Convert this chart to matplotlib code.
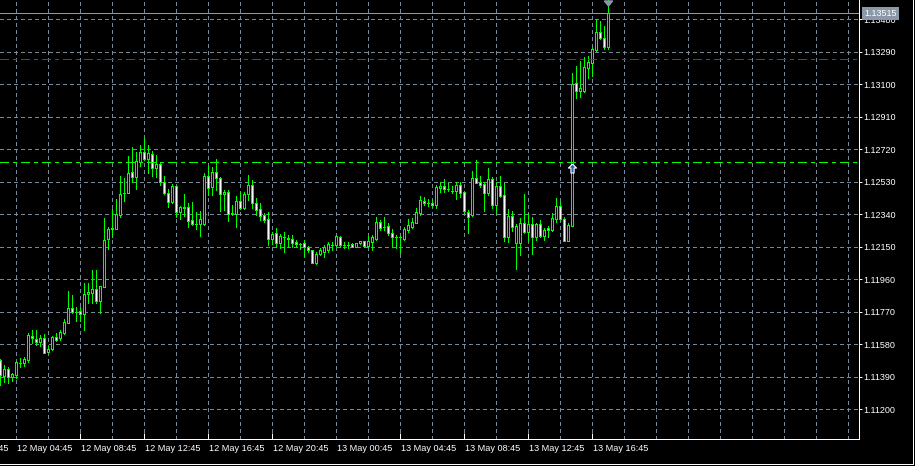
import matplotlib
matplotlib.use('Agg')
from matplotlib import pyplot
from matplotlib import transforms
from matplotlib.path import Path
from matplotlib.lines import Line2D
from matplotlib.ticker import FormatStrFormatter

pyplot.rcParams['font.family'] = ['Liberation Sans', 'DejaVu Sans']
pyplot.rcParams['lines.antialiased'] = False

# EURUSD M15, one candle per 15 minutes, first candle 12 May 03:45
opens = [
    1.11488, 1.11395, 1.11434, 1.11391, 1.11401, 1.11469, 1.11473, 1.11488, 1.11631, 1.11613,
    1.11596, 1.11615, 1.11533, 1.11551, 1.11621, 1.11615, 1.11648, 1.11707, 1.11790, 1.11771,
    1.11773, 1.11755, 1.11872, 1.11878, 1.11901, 1.11835, 1.11917, 1.12194, 1.12254, 1.12256,
    1.12338, 1.12463, 1.12463, 1.12586, 1.12560, 1.12648, 1.12702, 1.12662, 1.12691, 1.12609,
    1.12632, 1.12527, 1.12463, 1.12414, 1.12506, 1.12356, 1.12385, 1.12381, 1.12307, 1.12284,
    1.12282, 1.12283, 1.12566, 1.12498, 1.12585, 1.12550, 1.12457, 1.12469, 1.12346, 1.12342,
    1.12418, 1.12375, 1.12457, 1.12511, 1.12408, 1.12369, 1.12336, 1.12311, 1.12194, 1.12229,
    1.12174, 1.12209, 1.12203, 1.12194, 1.12178, 1.12166, 1.12170, 1.12147, 1.12131, 1.12057,
    1.12106, 1.12122, 1.12131, 1.12161, 1.12161, 1.12205, 1.12161, 1.12161, 1.12166, 1.12151,
    1.12170, 1.12184, 1.12157, 1.12180, 1.12194, 1.12297, 1.12268, 1.12272, 1.12233, 1.12205,
    1.12205, 1.12194, 1.12248, 1.12268, 1.12291, 1.12346, 1.12418, 1.12404, 1.12408, 1.12395,
    1.12492, 1.12506, 1.12490, 1.12479, 1.12479, 1.12512, 1.12469, 1.12354, 1.12336, 1.12550,
    1.12531, 1.12517, 1.12467, 1.12545, 1.12395, 1.12506, 1.12453, 1.12209, 1.12330, 1.12174,
    1.12174, 1.12287, 1.12237, 1.12284, 1.12206, 1.12284, 1.12213, 1.12258, 1.12248, 1.12313,
    1.12389, 1.12311, 1.12186, 1.12274, 1.13106, 1.13063, 1.13063, 1.13197, 1.13223, 1.13301,
    1.13408, 1.13369, 1.13316,
]
highs = [
    1.11492, 1.11459, 1.11446, 1.11414, 1.11483, 1.11498, 1.11508, 1.11644, 1.11664, 1.11664,
    1.11635, 1.11640, 1.11570, 1.11629, 1.11644, 1.11664, 1.11726, 1.11890, 1.11866, 1.11796,
    1.11800, 1.11941, 1.11941, 1.12015, 1.12015, 1.11921, 1.12317, 1.12268, 1.12369, 1.12428,
    1.12564, 1.12550, 1.12681, 1.12732, 1.12706, 1.12745, 1.12784, 1.12745, 1.12710, 1.12687,
    1.12648, 1.12564, 1.12486, 1.12517, 1.12512, 1.12389, 1.12457, 1.12404, 1.12414, 1.12356,
    1.12360, 1.12580, 1.12628, 1.12619, 1.12661, 1.12560, 1.12482, 1.12482, 1.12394, 1.12447,
    1.12472, 1.12472, 1.12570, 1.12541, 1.12433, 1.12404, 1.12346, 1.12356, 1.12239, 1.12258,
    1.12225, 1.12239, 1.12219, 1.12219, 1.12190, 1.12174, 1.12190, 1.12155, 1.12131, 1.12122,
    1.12141, 1.12161, 1.12180, 1.12176, 1.12219, 1.12213, 1.12178, 1.12178, 1.12170, 1.12174,
    1.12186, 1.12186, 1.12213, 1.12219, 1.12326, 1.12307, 1.12326, 1.12287, 1.12252, 1.12219,
    1.12219, 1.12268, 1.12311, 1.12317, 1.12375, 1.12447, 1.12443, 1.12428, 1.12424, 1.12512,
    1.12531, 1.12545, 1.12521, 1.12506, 1.12531, 1.12531, 1.12478, 1.12365, 1.12595, 1.12658,
    1.12564, 1.12531, 1.12609, 1.12556, 1.12531, 1.12564, 1.12525, 1.12369, 1.12361, 1.12283,
    1.12317, 1.12459, 1.12346, 1.12326, 1.12291, 1.12307, 1.12258, 1.12272, 1.12346, 1.12434,
    1.12414, 1.12323, 1.12291, 1.13164, 1.13207, 1.13238, 1.13258, 1.13266, 1.13320, 1.13480,
    1.13472, 1.13441, 1.13600,
]
lows = [
    1.11342, 1.11362, 1.11356, 1.11368, 1.11381, 1.11446, 1.11453, 1.11479, 1.11586, 1.11576,
    1.11570, 1.11527, 1.11527, 1.11547, 1.11602, 1.11606, 1.11640, 1.11703, 1.11761, 1.11718,
    1.11718, 1.11664, 1.11820, 1.11820, 1.11824, 1.11761, 1.11917, 1.12135, 1.12209, 1.12256,
    1.12323, 1.12420, 1.12463, 1.12531, 1.12490, 1.12623, 1.12658, 1.12584, 1.12564, 1.12560,
    1.12510, 1.12459, 1.12381, 1.12408, 1.12322, 1.12311, 1.12330, 1.12264, 1.12278, 1.12252,
    1.12213, 1.12278, 1.12453, 1.12453, 1.12482, 1.12359, 1.12365, 1.12303, 1.12336, 1.12268,
    1.12369, 1.12369, 1.12424, 1.12375, 1.12336, 1.12307, 1.12297, 1.12161, 1.12166, 1.12147,
    1.12141, 1.12122, 1.12151, 1.12151, 1.12147, 1.12135, 1.12096, 1.12122, 1.12053, 1.12050,
    1.12100, 1.12092, 1.12122, 1.12131, 1.12155, 1.12151, 1.12141, 1.12141, 1.12147, 1.12147,
    1.12166, 1.12151, 1.12151, 1.12131, 1.12190, 1.12248, 1.12248, 1.12219, 1.12147, 1.12141,
    1.12112, 1.12190, 1.12239, 1.12258, 1.12287, 1.12336, 1.12395, 1.12389, 1.12385, 1.12375,
    1.12473, 1.12473, 1.12479, 1.12463, 1.12428, 1.12443, 1.12346, 1.12233, 1.12330, 1.12521,
    1.12502, 1.12361, 1.12453, 1.12375, 1.12350, 1.12439, 1.12186, 1.12180, 1.12245, 1.12018,
    1.12102, 1.12229, 1.12190, 1.12108, 1.12190, 1.12206, 1.12190, 1.12206, 1.12245, 1.12297,
    1.12303, 1.12186, 1.12186, 1.12274, 1.13018, 1.13028, 1.13057, 1.13135, 1.13149, 1.13297,
    1.13363, 1.13305, 1.13305,
]
closes = [
    1.11401, 1.11436, 1.11391, 1.11405, 1.11475, 1.11469, 1.11492, 1.11635, 1.11615, 1.11596,
    1.11615, 1.11531, 1.11553, 1.11621, 1.11606, 1.11654, 1.11711, 1.11790, 1.11771, 1.11771,
    1.11755, 1.11872, 1.11888, 1.11901, 1.11835, 1.11921, 1.12190, 1.12254, 1.12260, 1.12342,
    1.12459, 1.12463, 1.12580, 1.12560, 1.12650, 1.12702, 1.12662, 1.12697, 1.12609, 1.12632,
    1.12527, 1.12463, 1.12414, 1.12506, 1.12356, 1.12385, 1.12379, 1.12303, 1.12282, 1.12284,
    1.12311, 1.12564, 1.12492, 1.12585, 1.12550, 1.12457, 1.12469, 1.12342, 1.12346, 1.12418,
    1.12375, 1.12459, 1.12511, 1.12408, 1.12365, 1.12332, 1.12307, 1.12194, 1.12225, 1.12174,
    1.12213, 1.12209, 1.12194, 1.12174, 1.12164, 1.12166, 1.12151, 1.12131, 1.12057, 1.12108,
    1.12131, 1.12147, 1.12166, 1.12161, 1.12213, 1.12161, 1.12161, 1.12161, 1.12151, 1.12170,
    1.12184, 1.12157, 1.12186, 1.12205, 1.12293, 1.12258, 1.12268, 1.12233, 1.12205, 1.12205,
    1.12205, 1.12252, 1.12278, 1.12297, 1.12352, 1.12424, 1.12404, 1.12404, 1.12393, 1.12498,
    1.12506, 1.12490, 1.12490, 1.12479, 1.12512, 1.12467, 1.12361, 1.12326, 1.12550, 1.12525,
    1.12512, 1.12467, 1.12545, 1.12395, 1.12506, 1.12447, 1.12209, 1.12330, 1.12264, 1.12272,
    1.12287, 1.12237, 1.12284, 1.12206, 1.12284, 1.12213, 1.12248, 1.12248, 1.12317, 1.12389,
    1.12311, 1.12186, 1.12278, 1.13100, 1.13063, 1.13077, 1.13199, 1.13231, 1.13305, 1.13408,
    1.13369, 1.13316, 1.13515,
]

price_ticks = [1.11200, 1.11390, 1.11580, 1.11770, 1.11960, 1.12150, 1.12340,
               1.12530, 1.12720, 1.12910, 1.13100, 1.13290, 1.13480]
time_labels = ['12 May 00:45', '12 May 04:45', '12 May 08:45', '12 May 12:45',
               '12 May 16:45', '12 May 20:45', '13 May 00:45', '13 May 04:45',
               '13 May 08:45', '13 May 12:45', '13 May 16:45']
label_bars = [-12, 4, 20, 36, 52, 68, 84, 100, 116, 132, 148]
tick_bars = [20, 36, 52, 68, 100, 116, 132, 148]
grid_bars = list(range(4, 215, 8))

bid = 1.13515
order_level = 1.12644
stop_level = 1.13246
buy_bar = 143
buy_price = 1.12611

GREEN = '#00ff00'
GRID = '#778899'
px = 0.72

fig = pyplot.figure(figsize=(9.15, 4.66), dpi=100, facecolor='black')
ax = fig.add_axes([0, 27 / 466, 859 / 915, 439 / 466], facecolor='black')

x = list(range(len(opens)))
bottoms = [min(o, c) for o, c in zip(opens, closes)]
heights = [abs(c - o) for o, c in zip(opens, closes)]
fills = ['black' if c >= o else 'white' for o, c in zip(opens, closes)]

ax.vlines(x, lows, highs, color=GREEN, linewidth=px, antialiased=False, zorder=3)
ax.bar(x, heights, bottom=bottoms, width=0.5, color=fills, edgecolor=GREEN,
       linewidth=px, antialiased=False, zorder=4)

ax.axhline(order_level, color=GREEN, linewidth=px, linestyle=(0, (9, 5, 3, 5)), zorder=5)
ax.axhline(stop_level, color='#ff0000', linewidth=px, linestyle=(0, (9, 5, 3, 5)), zorder=5)
ax.axhline(bid, color='#8a98a8', linewidth=px, zorder=5)

arrow = Path([(0, 1), (0.9, 0.1), (0.35, 0.1), (0.35, -1), (-0.35, -1),
              (-0.35, 0.1), (-0.9, 0.1), (0, 1)])
ax.plot([buy_bar], [buy_price], marker=arrow, markersize=6.5, color='#1f5fbf',
        markeredgecolor='white', markeredgewidth=0.8, antialiased=True, zorder=6)

shift = Path([(-4, 2.5), (4, 2.5), (0, -2.5), (-4, 2.5)])
top = transforms.blended_transform_factory(ax.transData, ax.transAxes)
ax.plot([len(opens) - 1], [1 - 2.5 / 439], marker=shift, markersize=5.8,
        color='#8a98a8', transform=top, clip_on=False, antialiased=True, zorder=6)

ax.set_xlim(-0.083, 214.67)
ax.set_ylim(1.110264, 1.135928)

ax.set_yticks(price_ticks)
ax.yaxis.tick_right()
ax.yaxis.set_major_formatter(FormatStrFormatter('%.5f'))
ax.tick_params(axis='y', colors='white', length=1.8, width=px, pad=1.5, labelsize=6.5)

ax.set_xticks(tick_bars)
ax.set_xticks(grid_bars, minor=True)
ax.tick_params(axis='x', which='major', direction='in', color='white', length=4.3,
               width=px, labelbottom=False)
ax.tick_params(axis='x', which='minor', length=0, labelbottom=False)

ax.grid(True, which='both', color=GRID, linewidth=px, linestyle=(0, (3, 3)))
ax.set_axisbelow(True)

for s in ['top', 'left']:
    ax.spines[s].set_visible(False)
for s in ['right', 'bottom']:
    ax.spines[s].set_color('white')
    ax.spines[s].set_linewidth(px)

for b, lab in zip(label_bars, time_labels):
    ax.annotate(lab, xy=(b, 0), xycoords=('data', 'axes fraction'),
                xytext=(1, -5), textcoords='offset pixels', ha='left', va='top',
                color='white', fontsize=6.6, annotation_clip=False)

side = transforms.blended_transform_factory(ax.transAxes, ax.transData)
ax.text(1 + 5 / 859, bid, '%.5f' % bid, transform=side, ha='left', va='center',
        color='white', fontsize=6.5, clip_on=False, zorder=10,
        bbox=dict(boxstyle='square,pad=0.25', fc='#8a98a8', ec='none'))

fig.add_artist(Line2D([0, 912.5 / 915], [1 - 463.5 / 466] * 2, color='white',
                      linewidth=px, transform=fig.transFigure))
fig.add_artist(Line2D([912.5 / 915] * 2, [1 - 463.5 / 466, 1], color='white',
                      linewidth=px, transform=fig.transFigure))

fig.savefig('out.png', dpi=100, facecolor='black')
